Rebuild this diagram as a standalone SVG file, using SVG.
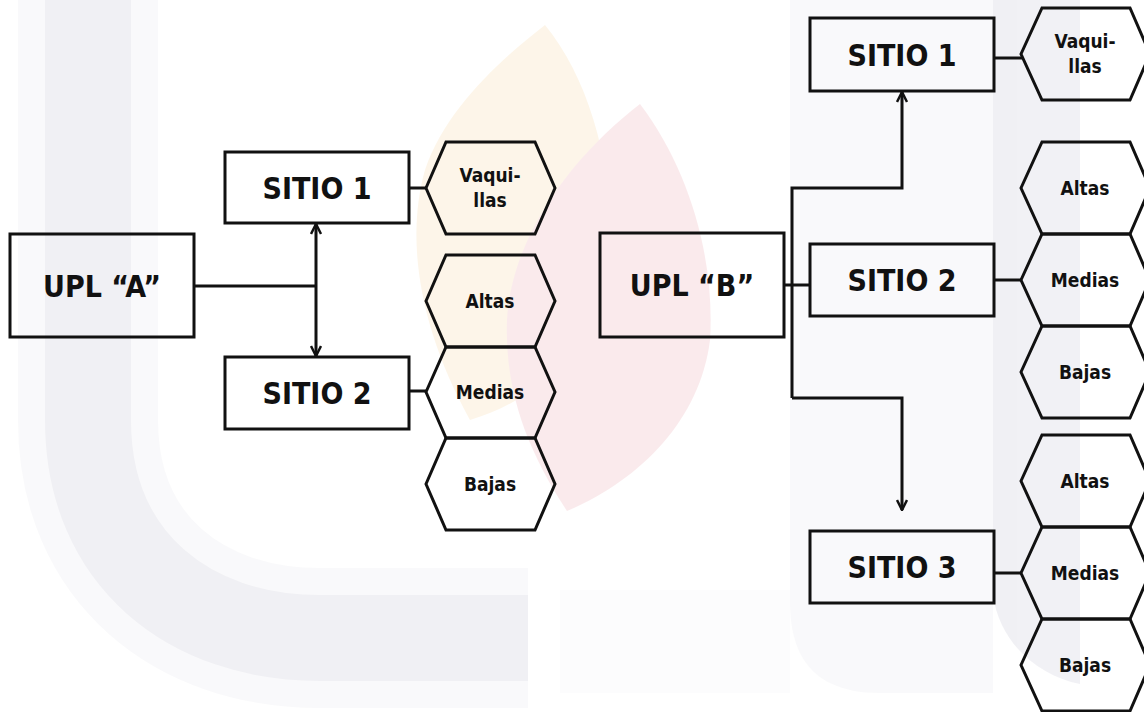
<svg xmlns="http://www.w3.org/2000/svg" width="1144" height="712" viewBox="0 0 1144 712">
  <style>
    .box { fill: none; stroke: #111111; stroke-width: 3; }
    .hex { fill: none; stroke: #111111; stroke-width: 3; stroke-linejoin: miter; }
    .ln { fill: none; stroke: #111111; stroke-width: 3; }
    .big { font-family: "DejaVu Sans Condensed", "DejaVu Sans", sans-serif; font-weight: bold; font-size: 30px; fill: #111111; text-anchor: middle; }
    .sm { font-family: "DejaVu Sans Condensed", "DejaVu Sans", sans-serif; font-weight: bold; font-size: 19px; fill: #111111; text-anchor: middle; }
  </style>
  <defs>
    <marker id="arr" viewBox="0 0 12 12" refX="11" refY="6" markerWidth="12" markerHeight="12" markerUnits="userSpaceOnUse" orient="auto-start-reverse">
      <path d="M1,1 L11,6 L1,11" fill="none" stroke="#111111" stroke-width="2.5"/>
    </marker>
  </defs>
  <rect x="0" y="0" width="1144" height="712" fill="#ffffff"/>
  <g id="watermark" opacity="0.65">
    <path d="M 88,0 V 420 C 88,560 190,638 320,638 L 528,638" fill="none" stroke="#f7f7f9" stroke-width="140"/>
    <path d="M 88,0 V 420 C 88,560 190,638 320,638 L 528,638" fill="none" stroke="#e9e9ef" stroke-width="86"/>
    <path d="M 790,0 L 993,0 L 993,693 L 880,693 C 800,693 790,640 790,600 Z" fill="#f7f7f9"/>
    <path d="M 560,590 L 790,590 L 790,693 L 560,693 Z" fill="#fbfbfc"/>
    <path d="M 993,0 L 1080,0 L 1080,684 C 1040,676 1000,645 993,595 Z" fill="#e9e9ef"/>
    <path d="M 545,25 C 590,80 615,170 610,260 C 600,340 540,400 470,420 C 420,330 405,240 425,170 C 445,110 500,60 545,25 Z" fill="#fcf1de"/>
    <path d="M 640,104 C 690,170 715,260 710,340 C 700,420 640,480 567,511 C 520,440 505,380 507,320 C 512,230 580,150 640,104 Z" fill="#f8e0e3"/>
  </g>
  <g id="connectors">
    <path class="ln" d="M194,286 H316"/>
    <path class="ln" d="M316,224 V356" marker-start="url(#arr)" marker-end="url(#arr)"/>
    <path class="ln" d="M409,188 H427"/>
    <path class="ln" d="M409,391 H427"/>
    <path class="ln" d="M784,285 H810"/>
    <path class="ln" d="M792,398 V188 H902 V92" marker-end="url(#arr)"/>
    <path class="ln" d="M792,398 H902 V510" marker-end="url(#arr)"/>
    <path class="ln" d="M994,58 H1022"/>
    <path class="ln" d="M994,280 H1022"/>
    <path class="ln" d="M994,573 H1022"/>
  </g>
  <g id="uplA">
    <rect class="box" x="10" y="234" width="184" height="103"/>
    <text class="big" x="102" y="297">UPL “A”</text>
  </g>
  <g id="a-sitio1">
    <rect class="box" x="225" y="152" width="184" height="71"/>
    <text class="big" x="317" y="199">SITIO 1</text>
  </g>
  <g id="a-sitio2">
    <rect class="box" x="225" y="357" width="184" height="72"/>
    <text class="big" x="317" y="404">SITIO 2</text>
  </g>
  <g id="a-vaquillas">
    <polygon class="hex" points="426,188 446,142 535,142 555,188 535,234 446,234"/>
    <text class="sm" x="490" y="182">Vaqui-</text>
    <text class="sm" x="490" y="207">llas</text>
  </g>
  <g id="a-altas">
    <polygon class="hex" points="426,301 446,255 535,255 555,301 535,347 446,347"/>
    <text class="sm" x="490" y="308">Altas</text>
  </g>
  <g id="a-medias">
    <polygon class="hex" points="426,392 446,347 535,347 555,392 535,438 446,438"/>
    <text class="sm" x="490" y="399">Medias</text>
  </g>
  <g id="a-bajas">
    <polygon class="hex" points="426,484 446,438 535,438 555,484 535,530 446,530"/>
    <text class="sm" x="490" y="491">Bajas</text>
  </g>
  <g id="uplB">
    <rect class="box" x="600" y="233" width="184" height="104"/>
    <text class="big" x="692" y="296">UPL “B”</text>
  </g>
  <g id="b-sitio1">
    <rect class="box" x="810" y="18" width="184" height="73"/>
    <text class="big" x="902" y="66">SITIO 1</text>
  </g>
  <g id="b-sitio2">
    <rect class="box" x="810" y="244" width="184" height="72"/>
    <text class="big" x="902" y="291">SITIO 2</text>
  </g>
  <g id="b-sitio3">
    <rect class="box" x="810" y="531" width="184" height="72"/>
    <text class="big" x="902" y="578">SITIO 3</text>
  </g>
  <g id="b-vaquillas">
    <polygon class="hex" points="1021,54 1042,8 1130,8 1150,54 1130,100 1042,100"/>
    <text class="sm" x="1085" y="48">Vaqui-</text>
    <text class="sm" x="1085" y="73">llas</text>
  </g>
  <g id="b2-altas">
    <polygon class="hex" points="1021,188 1042,142 1130,142 1150,188 1130,234 1042,234"/>
    <text class="sm" x="1085" y="195">Altas</text>
  </g>
  <g id="b2-medias">
    <polygon class="hex" points="1021,280 1042,234 1130,234 1150,280 1130,326 1042,326"/>
    <text class="sm" x="1085" y="287">Medias</text>
  </g>
  <g id="b2-bajas">
    <polygon class="hex" points="1021,372 1042,326 1130,326 1150,372 1130,418 1042,418"/>
    <text class="sm" x="1085" y="379">Bajas</text>
  </g>
  <g id="b3-altas">
    <polygon class="hex" points="1021,481 1042,435 1130,435 1150,481 1130,527 1042,527"/>
    <text class="sm" x="1085" y="488">Altas</text>
  </g>
  <g id="b3-medias">
    <polygon class="hex" points="1021,573 1042,527 1130,527 1150,573 1130,619 1042,619"/>
    <text class="sm" x="1085" y="580">Medias</text>
  </g>
  <g id="b3-bajas">
    <polygon class="hex" points="1021,665 1042,619 1130,619 1150,665 1130,711 1042,711"/>
    <text class="sm" x="1085" y="672">Bajas</text>
  </g>
</svg>
